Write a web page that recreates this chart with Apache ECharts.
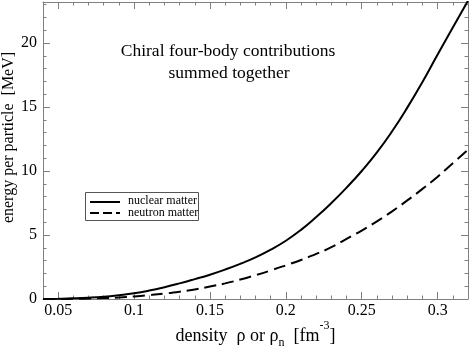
<!DOCTYPE html>
<html><head><meta charset="utf-8">
<script src="https://cdn.jsdelivr.net/npm/echarts@6/dist/echarts.min.js"></script>
<style>html,body{margin:0;padding:0;background:#fff}#c{width:470px;height:348px}</style>
</head><body><div id="c"></div>
<script>
const density = [0.04,0.05,0.06,0.07,0.08,0.09,0.10,0.11,0.12,0.13,0.14,0.15,0.16,0.17,0.18,0.19,0.20,0.21,0.22,0.23,0.24,0.25,0.26,0.27,0.28,0.29,0.30,0.31,0.32];
const nuclearMatter = [0,0.02,0.05,0.1,0.18,0.3,0.45,0.66,0.92,1.22,1.55,1.9,2.3,2.75,3.25,3.85,4.55,5.4,6.4,7.5,8.7,10.0,11.45,13.1,14.95,16.95,19.1,21.2,23.3];
const neutronMatter = [0,0,0.02,0.04,0.07,0.12,0.2,0.3,0.42,0.57,0.75,0.97,1.22,1.52,1.86,2.23,2.63,3.05,3.52,4.05,4.7,5.35,6.07,6.85,7.7,8.6,9.55,10.6,11.65];
const xTickValues = [0.05,0.1,0.15,0.2,0.25,0.3];
const xTickLabels = ['0.05','0.1','0.15','0.2','0.25','0.3'];
const yTickValues = [0,5,10,15,20];
const yTickLabels = ['0','5','10','15','20'];
const seriesNames = ['nuclear matter','neutron matter'];
const titleLines = ['Chiral four-body contributions','summed together'];

const FONT = '"Liberation Serif","Times New Roman",serif';
const FRAME = '#808080';
const chart = echarts.init(document.getElementById('c'), null, {renderer:'canvas'});

function xAxisDef(pos, major, labels){
  const a = {type:'value', min:0.04, max:0.32, position:pos, gridIndex:0,
    axisLine:{show:major, onZero:false, lineStyle:{color:FRAME, width:1}},
    splitLine:{show:false},
    axisLabel:{show:false},
    axisTick:{show:true, inside:true, length: major?7:3.5, lineStyle:{color:FRAME, width:1}}};
  if (major){ a.axisTick.customValues = xTickValues; }
  else { a.interval = 0.01; }
  if (labels){
    a.axisLabel = {show:true, customValues:xTickValues, margin:4, color:'#000', fontFamily:FONT, fontSize:16,
      formatter:v=>{const i=xTickValues.findIndex(t=>Math.abs(t-v)<1e-9);return i>=0?xTickLabels[i]:'';}};
    a.name = '{a|density  ρ or ρ}{sub|n}{a|  [fm}{sup|-3}{a|]}';
    a.nameLocation = 'middle';
    a.nameGap = 26;
    a.nameMoveOverlap = false;
    a.nameTextStyle = {color:'#000', fontFamily:FONT, fontSize:18,
      rich:{a:{fontFamily:FONT,fontSize:18,color:'#000',lineHeight:22},
            sub:{fontFamily:FONT,fontSize:12,color:'#000',lineHeight:22,verticalAlign:'bottom',padding:[0,0,-2,0]},
            sup:{fontFamily:FONT,fontSize:12,color:'#000',lineHeight:22,verticalAlign:'top',padding:[-5,0,0,0]}}};
  }
  return a;
}
function yAxisDef(pos, major, labels){
  const a = {type:'value', min:0, max:23.2, position:pos, gridIndex:0,
    axisLine:{show:major, onZero:false, lineStyle:{color:FRAME, width:1}},
    splitLine:{show:false},
    axisLabel:{show:false},
    axisTick:{show:true, inside:true, length: major?7:3.5, lineStyle:{color:FRAME, width:1}}};
  if (major){ a.axisTick.customValues = yTickValues; }
  else { a.interval = 1; }
  if (labels){
    a.axisLabel = {show:true, customValues:yTickValues, margin:6, color:'#000', fontFamily:FONT, fontSize:16,
      formatter:v=>{const i=yTickValues.findIndex(t=>Math.abs(t-v)<1e-9);return i>=0?yTickLabels[i]:'';}};
    a.name = 'energy per particle  [MeV]';
    a.nameLocation = 'middle';
    a.nameGap = 26;
    a.nameMoveOverlap = false;
    a.nameTextStyle = {color:'#000', fontFamily:FONT, fontSize:16, padding:[0,0,0,26]};
  }
  return a;
}

const option = {
  animation:false,
  backgroundColor:'#fff',
  grid:{left:43, right:2, top:2, bottom:49, containLabel:false, outerBoundsMode:'none'},
  xAxis:[xAxisDef('bottom',true,true), xAxisDef('bottom',false,false), xAxisDef('top',true,false), xAxisDef('top',false,false)],
  yAxis:[yAxisDef('left',true,true), yAxisDef('left',false,false), yAxisDef('right',true,false), yAxisDef('right',false,false)],
  series:[
    {name:seriesNames[0], type:'line', xAxisIndex:0, yAxisIndex:0, showSymbol:false, smooth:0.5,
     lineStyle:{color:'#000', width:2, type:'solid'}, data:density.map((d,i)=>[d,nuclearMatter[i]]), z:5},
    {name:seriesNames[1], type:'line', xAxisIndex:0, yAxisIndex:0, showSymbol:false, smooth:0.5,
     lineStyle:{color:'#000', width:2, type:[12,6]}, data:density.map((d,i)=>[d,neutronMatter[i]]), z:5}
  ],
  graphic:[
    {type:'text', style:{text:titleLines[0], x:228, y:51, align:'center', verticalAlign:'middle', font:'17.5px '+FONT, fill:'#000'}},
    {type:'text', style:{text:titleLines[1], x:229, y:73, align:'center', verticalAlign:'middle', font:'17.5px '+FONT, fill:'#000'}},
    {type:'rect', shape:{x:85.5, y:192.5, width:113, height:28}, style:{fill:'#fff', stroke:'#555', lineWidth:1}, z:10},
    {type:'line', shape:{x1:90, y1:202, x2:120, y2:202}, style:{stroke:'#000', lineWidth:2}, z:11},
    {type:'line', shape:{x1:90, y1:213, x2:120, y2:213}, style:{stroke:'#000', lineWidth:2, lineDash:[9,4]}, z:11},
    {type:'text', style:{text:seriesNames[0], x:128, y:201, verticalAlign:'middle', font:'12px '+FONT, fill:'#000'}, z:11},
    {type:'text', style:{text:seriesNames[1], x:128, y:213, verticalAlign:'middle', font:'12px '+FONT, fill:'#000'}, z:11}
  ]
};
chart.setOption(option);
</script></body></html>
